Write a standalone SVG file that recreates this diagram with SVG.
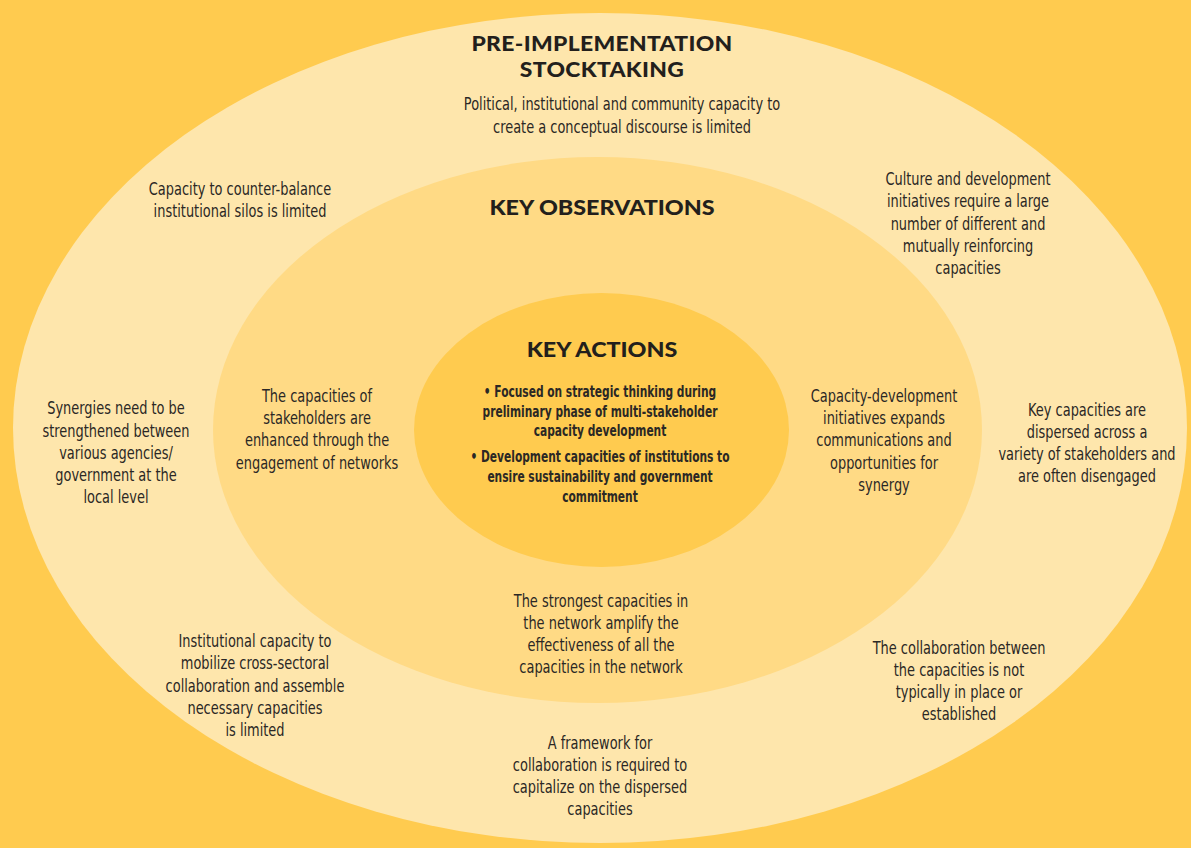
<svg xmlns="http://www.w3.org/2000/svg" width="1191" height="848" viewBox="0 0 1191 848">
<style>
.t{font-family:"Liberation Sans Narrow","DejaVu Sans Condensed","Liberation Sans",sans-serif;font-stretch:condensed;font-size:17px;fill:#2b2825;text-anchor:middle}
.b{font-family:"Liberation Sans Narrow","DejaVu Sans Condensed","Liberation Sans",sans-serif;font-stretch:condensed;font-size:15px;font-weight:bold;fill:#2b2825;text-anchor:middle}
.h{font-family:Lato,"Noto Sans",sans-serif;font-weight:900;font-size:21px;fill:#231f1c;text-anchor:middle}
</style>
<rect width="1191" height="848" fill="#FFCB4F"/>
<g id="outer">
<ellipse cx="600" cy="428" rx="587" ry="415" fill="#FEE6AC"/>
<text class="h" transform="matrix(1.09 0 0 1 602 51)" letter-spacing="0.3">PRE-IMPLEMENTATION</text>
<text class="h" transform="matrix(1.09 0 0 1 602 77)" letter-spacing="0.3">STOCKTAKING</text>
<text class="t" transform="matrix(0.847 0 0 1 622 110)">Political, institutional and community capacity to</text>
<text class="t" transform="matrix(0.847 0 0 1 622 133)">create a conceptual discourse is limited</text>
<text class="t" transform="matrix(0.847 0 0 1 240 195)">Capacity to counter-balance</text>
<text class="t" transform="matrix(0.847 0 0 1 240 217)">institutional silos is limited</text>
<text class="t" transform="matrix(0.847 0 0 1 968 185)">Culture and development</text>
<text class="t" transform="matrix(0.847 0 0 1 968 207)">initiatives require a large</text>
<text class="t" transform="matrix(0.847 0 0 1 968 230)">number of different and</text>
<text class="t" transform="matrix(0.847 0 0 1 968 252)">mutually reinforcing</text>
<text class="t" transform="matrix(0.847 0 0 1 968 274)">capacities</text>
<text class="t" transform="matrix(0.847 0 0 1 116 414)">Synergies need to be</text>
<text class="t" transform="matrix(0.847 0 0 1 116 437)">strengthened between</text>
<text class="t" transform="matrix(0.847 0 0 1 116 459)">various agencies/</text>
<text class="t" transform="matrix(0.847 0 0 1 116 481)">government at the</text>
<text class="t" transform="matrix(0.847 0 0 1 116 503)">local level</text>
<text class="t" transform="matrix(0.847 0 0 1 1087 416)">Key capacities are</text>
<text class="t" transform="matrix(0.847 0 0 1 1087 438)">dispersed across a</text>
<text class="t" transform="matrix(0.847 0 0 1 1087 460)">variety of stakeholders and</text>
<text class="t" transform="matrix(0.847 0 0 1 1087 482)">are often disengaged</text>
<text class="t" transform="matrix(0.847 0 0 1 255 647)">Institutional capacity to</text>
<text class="t" transform="matrix(0.847 0 0 1 255 669)">mobilize cross-sectoral</text>
<text class="t" transform="matrix(0.847 0 0 1 255 692)">collaboration and assemble</text>
<text class="t" transform="matrix(0.847 0 0 1 255 714)">necessary capacities</text>
<text class="t" transform="matrix(0.847 0 0 1 255 736)">is limited</text>
<text class="t" transform="matrix(0.847 0 0 1 959 654)">The collaboration between</text>
<text class="t" transform="matrix(0.847 0 0 1 959 676)">the capacities is not</text>
<text class="t" transform="matrix(0.847 0 0 1 959 698)">typically in place or</text>
<text class="t" transform="matrix(0.847 0 0 1 959 720)">established</text>
<text class="t" transform="matrix(0.847 0 0 1 600 749)">A framework for</text>
<text class="t" transform="matrix(0.847 0 0 1 600 771)">collaboration is required to</text>
<text class="t" transform="matrix(0.847 0 0 1 600 793)">capitalize on the dispersed</text>
<text class="t" transform="matrix(0.847 0 0 1 600 815)">capacities</text>
</g>
<g id="middle">
<ellipse cx="597.5" cy="430" rx="384.5" ry="273" fill="#FFDA85"/>
<text class="h" transform="matrix(1.11 0 0 1 602 215)">KEY OBSERVATIONS</text>
<text class="t" transform="matrix(0.847 0 0 1 317 402)">The capacities of</text>
<text class="t" transform="matrix(0.847 0 0 1 317 424)">stakeholders are</text>
<text class="t" transform="matrix(0.847 0 0 1 317 446)">enhanced through the</text>
<text class="t" transform="matrix(0.847 0 0 1 317 469)">engagement of networks</text>
<text class="t" transform="matrix(0.847 0 0 1 884 402)">Capacity-development</text>
<text class="t" transform="matrix(0.847 0 0 1 884 424)">initiatives expands</text>
<text class="t" transform="matrix(0.847 0 0 1 884 446)">communications and</text>
<text class="t" transform="matrix(0.847 0 0 1 884 469)">opportunities for</text>
<text class="t" transform="matrix(0.847 0 0 1 884 491)">synergy</text>
<text class="t" transform="matrix(0.847 0 0 1 601 607)">The strongest capacities in</text>
<text class="t" transform="matrix(0.847 0 0 1 601 629)">the network amplify the</text>
<text class="t" transform="matrix(0.847 0 0 1 601 651)">effectiveness of all the</text>
<text class="t" transform="matrix(0.847 0 0 1 601 673)">capacities in the network</text>
</g>
<g id="inner">
<ellipse cx="601.5" cy="430" rx="187.5" ry="137" fill="#FFCB4F"/>
<text class="h" transform="matrix(1.11 0 0 1 602 357)">KEY ACTIONS</text>
<text class="b" transform="matrix(0.79 0 0 1 600 397)">• Focused on strategic thinking during</text>
<text class="b" transform="matrix(0.79 0 0 1 600 417)">preliminary phase of multi-stakeholder</text>
<text class="b" transform="matrix(0.79 0 0 1 600 436)">capacity development</text>
<text class="b" transform="matrix(0.79 0 0 1 600 462)">• Development capacities of institutions to</text>
<text class="b" transform="matrix(0.79 0 0 1 600 482)">ensire sustainability and government</text>
<text class="b" transform="matrix(0.79 0 0 1 600 502)">commitment</text>
</g>
<g id="connectors"/>
</svg>
